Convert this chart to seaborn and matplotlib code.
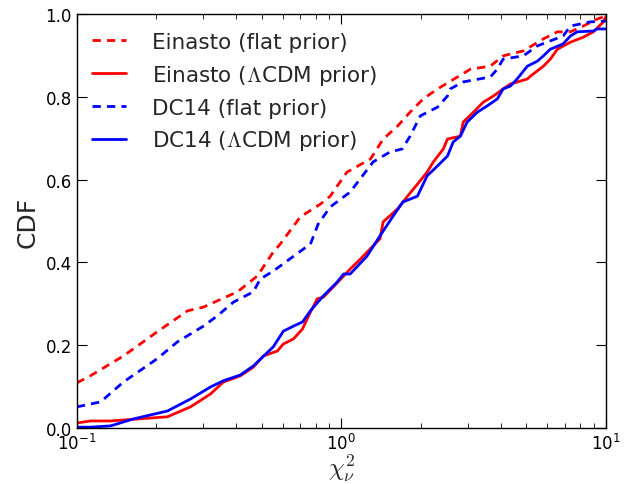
import numpy as np
import pandas as pd
import matplotlib
matplotlib.use("Agg")
import matplotlib.pyplot as plt
import seaborn as sns

# ---- data ----
ein_flat_x = [0.1, 0.1125, 0.150, 0.201, 0.262, 0.301, 0.405, 0.481, 0.553, 0.587, 0.700, 0.834, 0.908,
              1.05, 1.29, 1.44, 1.63, 1.82, 2.04, 2.31, 2.75, 3.08, 3.66, 4.09, 4.88, 5.81, 6.56, 7.35,
              8.22, 9.29, 10.0]
ein_flat_y = [0.109, 0.126, 0.174, 0.232, 0.283, 0.292, 0.329, 0.367, 0.425, 0.444, 0.510, 0.541, 0.560,
              0.618, 0.650, 0.698, 0.729, 0.763, 0.795, 0.819, 0.848, 0.867, 0.874, 0.899, 0.911, 0.940,
              0.957, 0.957, 0.971, 0.988, 0.995]

ein_lcdm_x = [0.1, 0.1125, 0.134, 0.220, 0.269, 0.320, 0.358, 0.415, 0.465, 0.507, 0.573, 0.604, 0.659,
              0.713, 0.764, 0.811, 0.855, 0.933, 1.02, 1.08, 1.18, 1.40, 1.44, 1.63, 1.78, 1.94, 2.11,
              2.23, 2.43, 2.52, 2.82, 2.89, 3.16, 3.44, 3.76, 4.09, 4.36, 5.05, 5.19, 5.81, 6.17, 6.56,
              7.35, 8.22, 8.97, 9.79, 10.0]
ein_lcdm_y = [0.012, 0.017, 0.017, 0.027, 0.051, 0.082, 0.111, 0.126, 0.147, 0.174, 0.186, 0.203, 0.215,
              0.239, 0.280, 0.312, 0.316, 0.341, 0.367, 0.384, 0.408, 0.457, 0.498, 0.529, 0.560, 0.589,
              0.618, 0.643, 0.674, 0.698, 0.705, 0.739, 0.763, 0.787, 0.802, 0.819, 0.831, 0.843, 0.850,
              0.874, 0.891, 0.915, 0.932, 0.944, 0.957, 0.981, 0.993]

dc_flat_x = [0.1, 0.123, 0.150, 0.201, 0.240, 0.301, 0.340, 0.391, 0.465, 0.494, 0.553, 0.718, 0.764,
             0.818, 0.908, 1.08, 1.32, 1.53, 1.70, 1.82, 1.99, 2.31, 2.52, 2.58, 2.89, 3.66, 3.89, 4.09,
             4.88, 5.51, 6.90, 7.35, 8.73, 10.0]
dc_flat_y = [0.051, 0.063, 0.111, 0.167, 0.208, 0.246, 0.271, 0.304, 0.329, 0.360, 0.379, 0.432, 0.444,
             0.493, 0.534, 0.570, 0.643, 0.667, 0.674, 0.705, 0.754, 0.775, 0.802, 0.819, 0.836, 0.848,
             0.867, 0.891, 0.899, 0.923, 0.947, 0.971, 0.981, 0.983]

dc_lcdm_x = [0.1, 0.1125, 0.134, 0.164, 0.220, 0.269, 0.320, 0.358, 0.415, 0.465, 0.553, 0.604, 0.659,
             0.713, 0.764, 0.855, 0.966, 1.02, 1.08, 1.25, 1.40, 1.57, 1.71, 1.94, 2.11, 2.31, 2.52,
             2.65, 2.82, 2.99, 3.27, 3.56, 3.89, 4.09, 4.36, 4.62, 5.05, 5.51, 5.81, 6.17, 6.90, 7.35,
             7.80, 8.97, 9.29, 10.0]
dc_lcdm_y = [0.002, 0.002, 0.005, 0.022, 0.041, 0.070, 0.099, 0.114, 0.128, 0.150, 0.196, 0.234, 0.246,
             0.256, 0.283, 0.319, 0.353, 0.372, 0.372, 0.415, 0.464, 0.512, 0.546, 0.560, 0.609, 0.633,
             0.657, 0.691, 0.705, 0.739, 0.763, 0.778, 0.795, 0.819, 0.826, 0.843, 0.874, 0.886, 0.899,
             0.915, 0.928, 0.947, 0.957, 0.959, 0.964, 0.964]

labels = ["Einasto (flat prior)", r"Einasto ($\Lambda$CDM prior)",
          "DC14 (flat prior)", r"DC14 ($\Lambda$CDM prior)"]
colors = ["red", "red", "blue", "blue"]
dashed = [True, False, True, False]
xs = [ein_flat_x, ein_lcdm_x, dc_flat_x, dc_lcdm_x]
ys = [ein_flat_y, ein_lcdm_y, dc_flat_y, dc_lcdm_y]

# ---- style ----
sns.set_style("ticks")
plt.rcParams.update({
    "font.family": ["DejaVu Sans"],
    "mathtext.fontset": "cm",
    "xtick.direction": "in", "ytick.direction": "in",
    "xtick.top": True, "ytick.right": True,
    "xtick.major.size": 7, "ytick.major.size": 7,
    "xtick.minor.size": 3.5, "ytick.minor.size": 3.5,
    "xtick.major.width": 0.8, "ytick.major.width": 0.8,
    "axes.edgecolor": "black", "axes.linewidth": 1.0,
    "xtick.color": "black", "ytick.color": "black",
    "xtick.labelsize": 12, "ytick.labelsize": 12,
})

fig = plt.figure(figsize=(6.35, 4.85), dpi=100)
ax = fig.add_axes([0.121, 0.1155, 0.833, 0.8535])

for x, y, lab, c, d in zip(xs, ys, labels, colors, dashed):
    df = pd.DataFrame({"x": x, "y": y})
    sns.lineplot(data=df, x="x", y="y", ax=ax, color=c, lw=2, label=lab,
                 estimator=None, sort=False)
    if d:
        ax.lines[-1].set_dashes([3.0, 2.2])

ax.set_xscale("log")
ax.set_xlim(0.1, 10)
ax.set_ylim(0, 1)
ax.set_yticks([0.0, 0.2, 0.4, 0.6, 0.8, 1.0])
ax.set_yticklabels(["0.0", "0.2", "0.4", "0.6", "0.8", "1.0"])
ax.set_xlabel(r"$\chi^2_\nu$", fontsize=18, labelpad=-1)
ax.set_ylabel("CDF", fontsize=18)
for s in ax.spines.values():
    s.set_visible(True)

leg = ax.legend(loc="upper left", frameon=False, fontsize=15.5, handlelength=1.6,
                handletextpad=1.2, borderaxespad=0.3, labelspacing=0.5,
                bbox_to_anchor=(0.0, 0.993))

fig.savefig("out.png", dpi=100)
